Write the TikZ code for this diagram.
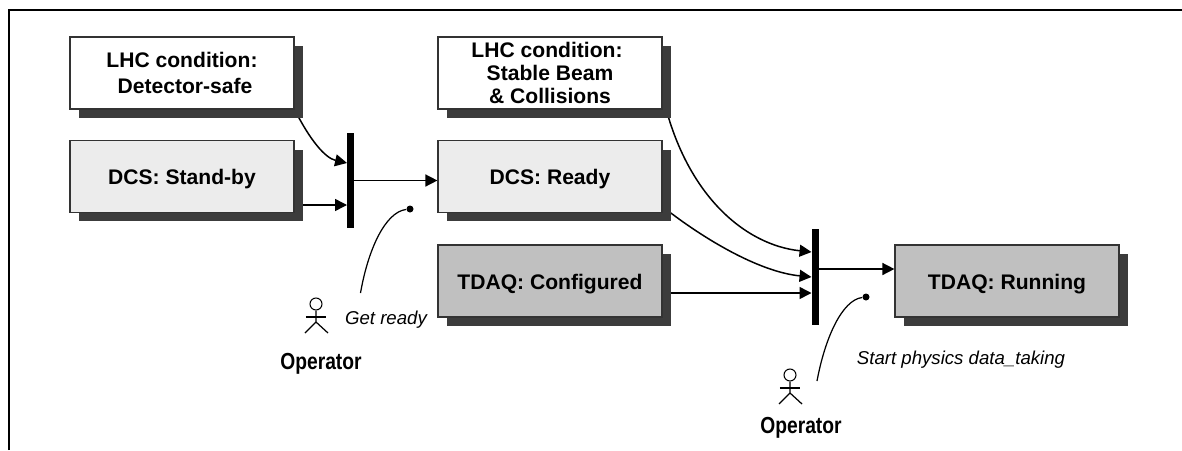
\documentclass[tikz,border=0pt]{standalone}
\usepackage{fontspec}
\setmainfont{Liberation Sans}
\newfontfamily\narrowfont[FakeStretch=0.83]{Liberation Sans}
\usetikzlibrary{arrows.meta,shadows,backgrounds}
\definecolor{shadowgray}{HTML}{3C3C3C}
\definecolor{dcsgray}{HTML}{ECECEC}
\definecolor{tdaqgray}{HTML}{C0C0C0}
\tikzset{
    statebox/.style={draw=black!80, line width=0.7pt, minimum width=4.48cm, minimum height=1.44cm, inner sep=0pt, align=center, font=\fontsize{12}{14}\selectfont\bfseries, copy shadow={draw=none, fill=shadowgray, shadow xshift=0.175cm, shadow yshift=-0.18cm}, boxdrop=12.1pt},
    boxdrop/.style={execute at begin node={\rule{0pt}{#1}}},
    conn/.style={line width=0.85pt, -{Triangle[length=6.8pt,width=6.8pt]}},
    syncbar/.style={fill=black, minimum width=0.14cm, inner sep=0pt},
    trigdot/.style={circle, fill=black, minimum size=0.14cm, inner sep=0pt},
    actionlabel/.style={font=\fontsize{10.6}{12}\selectfont\itshape, inner sep=0pt},
    operatorlabel/.style={font=\fontsize{13.2}{15}\narrowfont\bfseries, inner sep=0pt},
    actorhead/.style={circle, draw=black, line width=0.6pt, minimum size=0.24cm, inner sep=0pt},
    actor/.style={line width=0.7pt},
}
\begin{document}
\begin{tikzpicture}[x=0.02cm, y=-0.02cm]
    \useasboundingbox (0,0) rectangle (1182,450);
    \coordinate (fa) at (9,450);
    \coordinate (fb) at (9,10);
    \coordinate (fc) at (1182,10);
    \draw[line width=1.14pt] (fa) -- (fb) -- (fc);

    % states
    \node[statebox, fill=white, font=\fontsize{12}{14.5}\selectfont\bfseries, execute at begin node={\rule{0pt}{10.5pt}}] (lhcsafe) at (182,73) {LHC condition:\\\hspace*{3.4pt}Detector-safe};
    \node[statebox, fill=dcsgray] (dcsstandby) at (182,176.5) {DCS: Stand-by};
    \node[statebox, fill=white, font=\fontsize{12}{13.2}\selectfont\bfseries] (lhcstable) at (550,73) {LHC condition:\hspace*{3.4pt}\\Stable Beam\\\& Collisions};
    \node[statebox, fill=dcsgray] (dcsready) at (550,176.5) {DCS: Ready};
    \node[statebox, fill=tdaqgray] (tdaqcfg) at (550,281) {TDAQ: Configured};
    \node[statebox, fill=tdaqgray] (tdaqrun) at (1007,281) {TDAQ: Running};

    % transitions
    \node[syncbar, minimum height=1.9cm] (bar1) at (350.5,180.5) {};
    \node[syncbar, minimum height=1.92cm] (bar2) at (815,277) {};
    \coordinate (bar1a) at (347,163);
    \coordinate (bar1b) at (347,205);
    \coordinate (bar2a) at (811.5,252);
    \coordinate (bar2b) at (811.5,277);
    \coordinate (bar2c) at (811.5,293);
    \coordinate (bar2d) at (818.5,269);

    \begin{scope}[on background layer]
        \draw[conn] (lhcsafe.south east) .. controls (310,140) and (325,158) .. (bar1a);
        \draw[conn] (bar1b -| dcsstandby.east) -- (bar1b);
        \draw[conn] (bar1.east) -- (bar1.east -| dcsready.west);
        \draw[conn] (lhcstable.-11) .. controls (685,195) and (745,245) .. (bar2a);
        \draw[conn] (dcsready.-15) .. controls (705,240) and (760,272) .. (bar2b);
        \draw[conn] (bar2c -| tdaqcfg.east) -- (bar2c);
        \draw[conn] (bar2d) -- (bar2d -| tdaqrun.west);
    \end{scope}

    % first operator
    \node[trigdot] (dot1) at (410,209) {};
    \coordinate (hand1) at (360.5,293);
    \draw[line width=0.7pt] (hand1) .. controls (368,250) and (385,212) .. (dot1);
    \node[actorhead] (head1) at (316,304) {};
    \draw[actor] (head1) -- ++(0,18) -- ++(-11,11) ++(11,-11) -- ++(12,11);
    \draw[line width=1.4pt] ([xshift=-5.7pt,yshift=-7.4pt]head1.center) -- ++(11.4pt,0);
    \node[actionlabel] (getready) at (386,320) {Get ready};
    \node[operatorlabel] (operator1) at (321,364) {Operator};

    % second operator
    \node[trigdot] (dot2) at (866,297) {};
    \coordinate (hand2) at (817,381);
    \draw[line width=0.7pt] (hand2) .. controls (825,338) and (842,300) .. (dot2);
    \node[actorhead] (head2) at (790,375) {};
    \draw[actor] (head2) -- ++(0,18) -- ++(-11,11) ++(11,-11) -- ++(12,11);
    \draw[line width=1.4pt] ([xshift=-5.7pt,yshift=-7.4pt]head2.center) -- ++(11.4pt,0);
    \node[actionlabel] (startdata) at (961,360) {Start physics data\_taking};
    \node[operatorlabel] (operator2) at (801,428) {Operator};
\end{tikzpicture}
\end{document}
